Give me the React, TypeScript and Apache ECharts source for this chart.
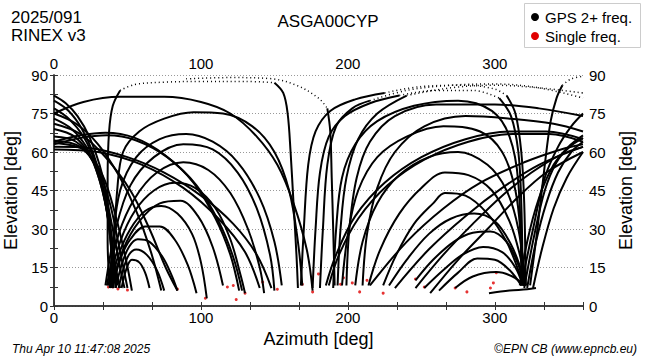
import React, { useEffect, useRef } from "react";
import * as echarts from "echarts";

type P = [number, number];

// Tracks descending from the left edge (north, wrapping) into the NE rising/setting cluster
const leftDescending: P[][] = [
  [[0, 82], [8, 79], [16, 74], [24, 66], [31, 55], [36, 42], [39, 28], [41, 15], [42, 7]],
  [[0, 80], [10, 76], [19, 69], [27, 59], [33, 47], [37, 33], [39.5, 18], [40.5, 7]],
  [[0, 77], [10, 73], [20, 66], [28, 56], [34, 43], [38, 28], [39.5, 15], [39, 8]],
  [[0, 73], [12, 69], [22, 62], [30, 51], [36, 37], [40, 22], [43, 8]],
  [[0, 69], [14, 66], [25, 58], [33, 45], [38, 30], [42, 15], [45, 7]],
  [[0, 66], [15, 64], [27, 56], [35, 43], [41, 27], [46, 12], [48, 7]],
  [[0, 64.5], [18, 62], [30, 53], [38, 40], [44, 24], [50, 7]],
  [[0, 63.5], [20, 61], [33, 51], [42, 35], [49, 18], [53, 6]],
  [[0, 75], [15, 71], [30, 63], [44, 51], [56, 37], [66, 21], [73, 6]],
  [[0, 71], [18, 67], [35, 58], [52, 45], [65, 30], [76, 15], [84, 6]],
];

// Arcs rising from the NE cluster and setting further east
const leftArcs: P[][] = [
  [[46, 7], [49, 14], [53, 18], [58, 17], [62, 13], [65, 7]],
  [[44, 7], [47, 14], [51, 20], [56, 22], [63, 20], [70, 14], [75, 6]],
  [[42, 7], [46, 16], [51, 23], [57, 26], [65, 25], [74, 19], [80, 12], [84, 6]],
  [[40, 7], [45, 18], [52, 26], [62, 31], [72, 31], [82, 26], [91, 16], [97, 5]],
  [[38, 7], [44, 20], [52, 30], [62, 37], [73, 39], [84, 36], [94, 28], [100, 17], [104, 3]],
  [[39, 7], [47, 22], [58, 33], [72, 40], [86, 41], [98, 35], [108, 23], [115, 8]],
  [[37, 8], [45, 25], [55, 37], [68, 45], [82, 48], [96, 46], [110, 38], [120, 26], [127, 12], [130, 5]],
  [[36, 8], [44, 28], [55, 42], [70, 52], [88, 56], [105, 53], [120, 44], [132, 30], [140, 15], [143, 5]],
  [[35, 8], [42, 30], [52, 47], [68, 58], [88, 63], [108, 61], [125, 52], [138, 38], [147, 20], [150, 6]],
  [[38, 8], [40, 25], [45, 45], [56, 58], [72, 65], [90, 67], [108, 64], [125, 56], [140, 42], [150, 25], [155, 8]],
  [[40, 7], [41, 25], [43, 45], [47, 60], [58, 68], [75, 73], [95, 75.5], [115, 75], [135, 70], [150, 60], [160, 45], [166, 25], [169, 8]],
];

// Long arcs crossing from the left edge to the south-east
const crossArcs: P[][] = [
  [[0, 64], [18, 66.5], [35, 67.5], [55, 65.5], [75, 59], [95, 48], [110, 34], [120, 20], [126, 6]],
  [[0, 63], [18, 65.5], [36, 66.5], [56, 64.5], [77, 58], [97, 47], [112, 33], [122, 19], [128, 6]],
  [[0, 62], [25, 61.5], [50, 58], [75, 52], [100, 43], [122, 32], [138, 20], [148, 7]],
  [[0, 61], [30, 60], [60, 55], [88, 46], [112, 34], [130, 21], [140, 7]],
  [[0, 75], [20, 79.5], [45, 81.5], [75, 81.5], [100, 79.5], [120, 75], [138, 66], [152, 55], [163, 40], [172, 22], [176, 6]],
];

// Near-zenith passes (solid parts)
const zenithSolid: P[][] = [
  [[38, 7], [36.5, 25], [36.5, 50], [37.5, 68], [40, 78], [45, 84]],
  [[150, 87], [156, 83], [159, 75], [161, 60], [163, 40], [165, 20], [166, 7]],
  [[186, 77], [188, 68], [189, 50], [190, 30], [191, 8]],
  [[168, 8], [170, 30], [173, 55], [178, 68], [188, 76], [205, 80.5], [225, 83]],
  [[308, 82], [314, 75], [318, 60], [320, 40], [321, 8]],
  [[176, 7], [178, 30], [181, 52], [187, 66], [198, 74], [215, 79], [235, 82]],
  [[303, 81], [311, 74], [316, 60], [318, 40], [319, 8]],
  [[181, 7], [183, 30], [186, 55], [192, 70], [203, 77], [215, 80]],
  [[193, 8], [195, 30], [199, 50], [207, 65], [220, 75], [240, 82]],
  [[324, 8], [329, 30], [334, 55], [338, 72], [342, 81], [346, 86]],
];

// Near-zenith passes (sparse, dotted parts)
const zenithDotted: P[][] = [
  [[45, 84], [55, 86.3], [75, 87.2], [100, 87.5], [130, 87.5], [150, 87]],
  [[90, 88.5], [120, 89], [147, 88.6], [165, 86], [180, 81], [186, 77]],
  [[225, 83], [250, 85.5], [280, 86], [300, 84.5], [308, 82]],
  [[235, 82], [260, 84], [285, 84], [303, 81]],
  [[215, 80], [240, 84], [270, 86], [300, 86.5], [330, 85], [360, 81]],
  [[240, 82], [270, 85], [300, 86], [330, 85], [360, 83]],
  [[346, 86], [352, 88.5], [360, 89.5]],
];

// Arcs rising in the south and setting in the NW cluster
const rightArcs: P[][] = [
  [[190, 7], [192, 30], [196, 50], [205, 63], [220, 72], [245, 78], [275, 80], [298, 76], [310, 66], [316, 48], [318, 8]],
  [[196, 8], [200, 28], [207, 45], [220, 58], [240, 66], [265, 70], [290, 68], [305, 60], [314, 45], [318, 25], [320, 8]],
  [[205, 8], [210, 25], [220, 40], [235, 51], [255, 58], [275, 60], [295, 55], [308, 45], [316, 30], [321, 8]],
  [[214, 8], [222, 22], [235, 36], [250, 46], [266, 52], [282, 51], [298, 45], [310, 33], [317, 20], [321, 8]],
  [[224, 8], [233, 20], [245, 32], [258, 40], [266, 44], [280, 43], [295, 36], [308, 25], [316, 14], [320, 8]],
  [[228, 8], [240, 18], [255, 28], [270, 34], [286, 36], [300, 33], [311, 24], [318, 14], [321, 8]],
  [[246, 10], [258, 18], [272, 25], [285, 28.5], [297, 29], [308, 25], [316, 16], [320, 8]],
  [[252, 7], [265, 14], [278, 20], [292, 23], [305, 21], [314, 15], [319, 8]],
  [[262, 6], [275, 13], [288, 18.5], [300, 18], [310, 14], [318, 8]],
  [[273, 7], [285, 11.5], [301, 13.2], [312, 11.5], [320, 8]],
  [[296, 5], [310, 6], [322, 6.5], [328, 7]],
];

// Tracks climbing to the right edge (north, wrapping)
const rightAscending: P[][] = [
  [[199, 8], [201, 30], [206, 50], [215, 64], [232, 74], [260, 78.5], [300, 78.5], [330, 77], [360, 74]],
  [[210, 8], [213, 28], [220, 46], [232, 60], [252, 70], [280, 74], [310, 73], [340, 71], [360, 68]],
  [[185, 8], [192, 20], [205, 35], [225, 48], [250, 58], [280, 65], [310, 68], [335, 68], [360, 65]],
  [[187, 8], [194, 20], [207, 34], [227, 47], [252, 57], [282, 64], [312, 67], [337, 67], [360, 64]],
  [[246, 7], [265, 20], [285, 32], [305, 43], [325, 52], [345, 59], [360, 62]],
  [[256, 5], [275, 18], [295, 30], [315, 42], [335, 52], [360, 60]],
  [[215, 8], [240, 25], [265, 38], [290, 48], [320, 56], [345, 61], [360, 63]],
  [[232, 7], [255, 22], [280, 35], [305, 46], [330, 55], [360, 62]],
  [[322, 7], [328, 25], [335, 40], [343, 52], [352, 60], [360, 64]],
  [[320, 7], [327, 28], [334, 45], [342, 56], [351, 62], [360, 65.5]],
  [[318, 8], [326, 30], [334, 50], [343, 62], [352, 70], [360, 75]],
  [[326, 7], [332, 22], [340, 38], [349, 50], [360, 60]],
  [[317, 8], [322, 25], [330, 42], [340, 55], [350, 62], [360, 66.5]],
];

// Single-frequency observations (red)
const singleFreq: P[] = [
  [37, 7.4], [40, 7.4], [43.5, 6.6], [50, 6.2], [84, 6.6], [103, 3], [118, 7.4], [122, 8], [124, 2.5],
  [130, 5], [142, 9.3], [152, 6.5], [169, 8.5], [176, 5.5], [180, 12.5], [195, 8.5], [197, 11], [203, 9],
  [208, 5.5], [213, 10], [224, 5], [246, 10.5], [252, 7.4], [273, 7], [281, 5.5], [297, 7], [299, 9],
  [301, 13], [319, 9],
];

const azTicks = [0, 100, 200, 300];
const FONT = "'Liberation Sans', Arial, Helvetica, sans-serif";

export default function App() {
  const ref = useRef<HTMLDivElement>(null);
  useEffect(() => {
    if (!ref.current) return;
    const chart = echarts.init(ref.current, null, { renderer: "svg" });
    const xLabel = (v: number) => {
      const r = Math.round(v / 100) * 100;
      return Math.abs(v - r) < 0.5 && azTicks.indexOf(r) >= 0 ? String(r) : "";
    };
    const solidLine = (d: P[]) => ({
      type: "line",
      data: d,
      smooth: 0.35,
      showSymbol: false,
      silent: true,
      lineStyle: { color: "#000", width: 2 },
    });
    const dottedLine = (d: P[]) => ({
      type: "line",
      data: d,
      smooth: 0.35,
      showSymbol: false,
      silent: true,
      lineStyle: { color: "#000", width: 1.5, type: [1, 3] },
    });
    const solids = [...leftDescending, ...leftArcs, ...crossArcs, ...zenithSolid, ...rightArcs, ...rightAscending];
    const xCommon = {
      type: "value",
      min: 0,
      max: 360,
      interval: 100 / 3,
      splitLine: { show: false },
      axisLine: { lineStyle: { color: "#333", width: 1.5 } },
      axisTick: { inside: true, length: 4, lineStyle: { color: "#333" } },
      axisLabel: { formatter: xLabel, color: "#000", fontSize: 15, fontFamily: FONT, margin: 4, showMaxLabel: true },
    };
    const yCommon = {
      type: "value",
      min: 0,
      max: 90,
      interval: 15,
      axisLine: { show: true, lineStyle: { color: "#333", width: 1.5 } },
      axisTick: { show: true, inside: true, length: 4, lineStyle: { color: "#333" } },
      minorTick: { show: true, splitNumber: 2, length: 4, lineStyle: { color: "#333" } },
      axisLabel: { color: "#000", fontSize: 15, fontFamily: FONT, margin: 6 },
      name: "Elevation [deg]",
      nameLocation: "middle",
      nameTextStyle: { color: "#000", fontSize: 18, fontFamily: FONT },
    };
    chart.setOption({
      animation: false,
      grid: { left: 54, right: 67, top: 75, bottom: 54, containLabel: false, outerBoundsMode: "none" },
      xAxis: [
        { ...xCommon, position: "bottom", name: "Azimuth [deg]", nameLocation: "middle", nameGap: 17,
          nameTextStyle: { color: "#000", fontSize: 18, fontFamily: FONT, verticalAlign: "top" } },
        { ...xCommon, position: "top" },
      ],
      yAxis: [
        { ...yCommon, position: "left", nameGap: 26,
          splitLine: { show: true, lineStyle: { color: "#999", width: 1, type: [1, 2] } } },
        { ...yCommon, position: "right", nameGap: 34, splitLine: { show: false } },
      ],
      series: [
        ...solids.map(solidLine),
        ...zenithDotted.map(dottedLine),
        {
          type: "scatter",
          data: singleFreq,
          symbolSize: 3,
          silent: true,
          itemStyle: { color: "#e00000" },
        },
      ],
      graphic: [
        { type: "text", left: 11, top: 9, style: { text: "2025/091", fontSize: 17, fontFamily: FONT, fill: "#000" } },
        { type: "text", left: 11, top: 27, style: { text: "RINEX v3", fontSize: 17, fontFamily: FONT, fill: "#000" } },
        { type: "text", x: 328, y: 21, style: { text: "ASGA00CYP", fontSize: 17, fontFamily: FONT, fill: "#000", align: "center", verticalAlign: "middle" } },
        { type: "rect", shape: { x: 524.5, y: 3.5, width: 116, height: 44 }, style: { fill: "#fff", stroke: "#ccc", lineWidth: 1 } },
        { type: "circle", shape: { cx: 535, cy: 17, r: 4 }, style: { fill: "#000" } },
        { type: "circle", shape: { cx: 535, cy: 36, r: 4 }, style: { fill: "#e00000" } },
        { type: "text", x: 545, y: 17, style: { text: "GPS 2+ freq.", fontSize: 15, fontFamily: FONT, fill: "#000", verticalAlign: "middle" } },
        { type: "text", x: 545, y: 36, style: { text: "Single freq.", fontSize: 15, fontFamily: FONT, fill: "#000", verticalAlign: "middle" } },
        { type: "text", x: 12, y: 349, style: { text: "Thu Apr 10 11:47:08 2025", fontSize: 12, fontStyle: "italic", fontFamily: FONT, fill: "#000", verticalAlign: "middle" } },
        { type: "text", x: 637, y: 349, style: { text: "©EPN CB (www.epncb.eu)", fontSize: 12, fontStyle: "italic", fontFamily: FONT, fill: "#000", align: "right", verticalAlign: "middle" } },
      ],
    });
    return () => chart.dispose();
  }, []);
  return <div ref={ref} style={{ width: 650, height: 360, position: "absolute", left: 0, top: 0, background: "#fff" }} />;
}
